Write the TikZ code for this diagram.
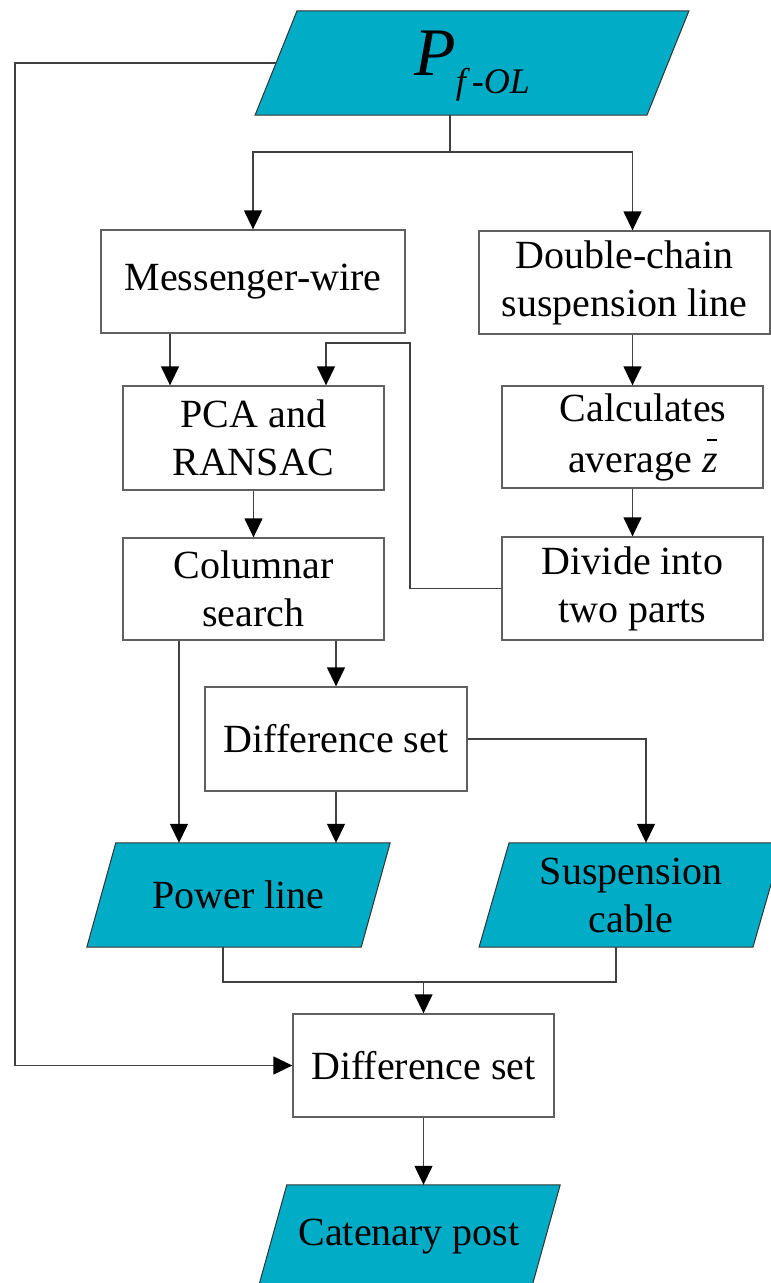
\documentclass[tikz,border=0pt]{standalone}
\usepackage{fontspec}
\setmainfont{LiberationSerif-Regular.ttf}[
  BoldFont=LiberationSerif-Bold.ttf,
  ItalicFont=LiberationSerif-Italic.ttf,
  BoldItalicFont=LiberationSerif-BoldItalic.ttf]
\usetikzlibrary{arrows.meta,backgrounds}
\definecolor{ioteal}{RGB}{0,172,198}
\definecolor{edgegray}{RGB}{96,96,96}
\definecolor{wiregray}{RGB}{64,64,64}
% slanted input/output body drawn behind a node: #1 node, #2 half of the slant
\newcommand\slanted[2]{%
  \filldraw[iobody] ([xshift=#2]#1.north west) -- ([xshift=#2]#1.north east)
    -- ([xshift=-#2]#1.south east) -- ([xshift=-#2]#1.south west) -- cycle;}
\begin{document}
\begin{tikzpicture}[x=1pt,y=-1pt,
  txt/.style={font=\fontsize{40}{48}\selectfont, align=center, inner sep=0pt},
  box/.style={txt, draw=edgegray, line width=1.3pt},
  io/.style={txt, minimum height=104pt},
  iobody/.style={fill=ioteal, draw=black!80, line width=1pt},
  wire/.style={draw=wiregray, line width=1.3pt},
  arr/.style={wire, -{Triangle[length=19pt,width=18pt,color=black]}},
]
\useasboundingbox (0,0) rectangle (771,1283);

% nodes
\node[io, minimum width=391.5pt, text height=46pt, text depth=22pt] (src) at (472,63)
  {\fontsize{68}{68}\selectfont\itshape P\raisebox{-18pt}{\fontsize{36}{36}\selectfont f\hspace{6pt}\upshape-\itshape OL}};
\node[box, minimum width=304pt, minimum height=103pt] (mw) at (253,281.5) {Messenger-wire};
\node[box, minimum width=291pt, minimum height=103pt] (dc) at (624.5,282.5) {Double-chain\\suspension line};
\node[box, minimum width=261pt, minimum height=104pt] (pca) at (253.5,438) {PCA and\\RANSAC};
\node[box, minimum width=261pt, minimum height=102pt] (cs) at (253.5,589) {Columnar\\search};
\node[box, minimum width=261pt, minimum height=102pt] (ca) at (632.5,437) {};
\node[txt] (ca-text) at (643,437)
  {Calculates\\[3pt]average \textit{z}\llap{\rule[31pt]{10pt}{1.6pt}\kern1pt}};
\node[box, minimum width=261pt, minimum height=103pt] (dv) at (632.5,588.5) {Divide into\\two parts};
\node[box, minimum width=262pt, minimum height=104pt] (d1) at (336,739) {Difference set};
\node[io, minimum width=274pt] (pl) at (238.5,895) {Power line};
\node[io, minimum width=273.5pt] (sc) at (631,895) {Suspension\\cable};
\node[box, minimum width=261pt, minimum height=103pt] (d2) at (423.5,1065.5) {Difference set};
\node[io, minimum width=273pt] (cp) at (409,1237) {Catenary post};

\begin{pgfonlayer}{background}
  \slanted{src}{21pt}
  \slanted{pl}{14.5pt}
  \slanted{sc}{15pt}
  \slanted{cp}{14.5pt}
\end{pgfonlayer}

% connectors
\coordinate (fork) at (450,152);
\draw[wire] (src.south -| fork) -- (fork);
\draw[arr] (fork) -| (mw.north);
\draw[arr] (fork) -| (dc.north -| ca.north);
\draw[arr] (src.west) -- (15,63) |- (d2.west);
\draw[arr] (mw.south -| 170,0) -- (pca.north -| 170,0);
\draw[arr] (dv.west) -| (410,343) -| (pca.north -| 326,0);
\draw[arr] (pca.south) -- (cs.north);
\draw[arr] (dc.south -| ca.north) -- (ca.north);
\draw[arr] (ca.south) -- (dv.north);
\draw[arr] (cs.south -| d1.north) -- (d1.north);
\draw[arr] (cs.south -| 179,0) -- (pl.north -| 179,0);
\draw[arr] (d1.south) -- (pl.north -| d1.south);
\draw[arr] (d1.east) -| (sc.north -| 646,0);
\coordinate (merge) at (423.5,982);
\draw[wire] (pl.south -| 223,0) |- (merge) -| (sc.south -| 616,0);
\draw[arr] (merge) -- (d2.north);
\draw[arr] (d2.south) -- (cp.north -| d2.south);
\end{tikzpicture}
\end{document}
